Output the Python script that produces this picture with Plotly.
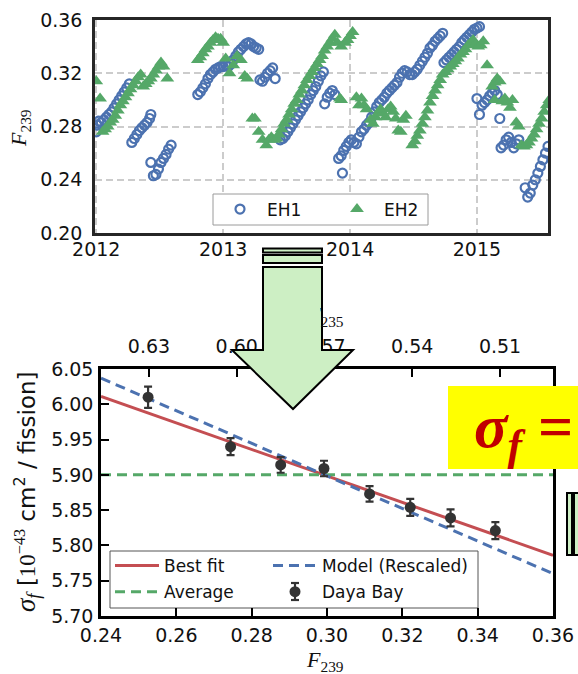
import plotly.graph_objects as go

W, H = 578, 674

# ---------------- Top panel: F239 vs time for two experimental halls ----------------
eh1_year = [
    2012.00, 2012.01, 2012.02, 2012.04, 2012.06, 2012.08, 2012.10, 2012.12, 2012.14, 2012.16,
    2012.18, 2012.20, 2012.22, 2012.24, 2012.26,
    2012.28, 2012.30, 2012.32, 2012.34, 2012.36, 2012.38, 2012.40, 2012.42, 2012.43,
    2012.43, 2012.45, 2012.47, 2012.49, 2012.51, 2012.53, 2012.55, 2012.57, 2012.59,
    2012.80, 2012.82, 2012.84, 2012.86, 2012.88, 2012.90, 2012.92, 2012.94, 2012.96, 2012.98,
    2013.00, 2013.02, 2013.04, 2013.06, 2013.08, 2013.10, 2013.12, 2013.14, 2013.16, 2013.18,
    2013.20, 2013.22, 2013.24, 2013.26, 2013.28,
    2013.29, 2013.31, 2013.33, 2013.35, 2013.37, 2013.39, 2013.41,
    2013.45, 2013.47, 2013.49, 2013.51, 2013.53, 2013.55, 2013.57, 2013.59, 2013.61, 2013.63,
    2013.65, 2013.67, 2013.69, 2013.71, 2013.73, 2013.75, 2013.77, 2013.79,
    2013.80, 2013.82, 2013.84, 2013.86, 2013.88,
    2013.91, 2013.93, 2013.94, 2013.95, 2013.97, 2013.99, 2014.01, 2014.03, 2014.05, 2014.07,
    2014.09, 2014.11, 2014.13, 2014.15, 2014.17, 2014.19, 2014.21, 2014.23, 2014.25, 2014.27,
    2014.29, 2014.31, 2014.33, 2014.35, 2014.37, 2014.39, 2014.41, 2014.43, 2014.45, 2014.47,
    2014.49, 2014.51, 2014.53, 2014.55, 2014.57, 2014.59, 2014.61, 2014.63, 2014.65, 2014.67,
    2014.69, 2014.71, 2014.73,
    2014.74, 2014.76, 2014.78, 2014.80, 2014.82, 2014.84, 2014.86, 2014.88, 2014.90, 2014.92,
    2014.94, 2014.96, 2014.98, 2015.00, 2015.02,
    2015.00, 2015.02, 2015.04, 2015.06, 2015.08, 2015.10, 2015.12, 2015.14, 2015.16, 2015.18,
    2015.19, 2015.21, 2015.23, 2015.25, 2015.27, 2015.29, 2015.31, 2015.33,
    2015.38, 2015.40, 2015.42, 2015.44, 2015.46, 2015.48, 2015.50, 2015.52, 2015.54, 2015.56,
]
eh1_f239 = [
    0.276, 0.281, 0.284, 0.283, 0.285, 0.287, 0.289, 0.291, 0.294, 0.297,
    0.300, 0.303, 0.306, 0.309, 0.312,
    0.268, 0.271, 0.274, 0.277, 0.279, 0.281, 0.283, 0.286, 0.289,
    0.253, 0.243, 0.244, 0.248, 0.253, 0.256, 0.259, 0.263, 0.266,
    0.304, 0.306, 0.309, 0.312, 0.316, 0.319, 0.321, 0.323, 0.324, 0.325,
    0.325, 0.326, 0.325, 0.327, 0.330, 0.333, 0.336, 0.338, 0.340, 0.342,
    0.343, 0.342, 0.340, 0.339, 0.338,
    0.315, 0.314, 0.317, 0.320, 0.322, 0.324, 0.316,
    0.270, 0.271, 0.273, 0.276, 0.279, 0.282, 0.285, 0.288, 0.291, 0.294,
    0.297, 0.300, 0.304, 0.307, 0.310, 0.314, 0.318, 0.321,
    0.297, 0.302, 0.305, 0.307, 0.304,
    0.256, 0.258, 0.245, 0.262, 0.265, 0.268, 0.270, 0.268, 0.267, 0.272,
    0.276, 0.278, 0.281, 0.283, 0.287, 0.291, 0.295, 0.298, 0.300, 0.302,
    0.305, 0.307, 0.309, 0.311, 0.313, 0.317, 0.320, 0.322, 0.321, 0.319,
    0.319, 0.321, 0.323, 0.326, 0.329, 0.332, 0.335, 0.339, 0.341, 0.344,
    0.346, 0.348, 0.350,
    0.328, 0.330, 0.332, 0.334, 0.336, 0.338, 0.340, 0.343, 0.345, 0.347,
    0.349, 0.351, 0.353, 0.354, 0.355,
    0.301, 0.289, 0.296, 0.298, 0.300, 0.303, 0.305, 0.307, 0.304, 0.286,
    0.264, 0.266, 0.270, 0.272, 0.268, 0.264, 0.267, 0.270,
    0.234, 0.227, 0.230, 0.236, 0.240, 0.245, 0.250, 0.255, 0.260, 0.265,
]

eh2_year = [
    2012.00, 2012.03,
    2012.05, 2012.07, 2012.09, 2012.11, 2012.13, 2012.15, 2012.17, 2012.19, 2012.21, 2012.23,
    2012.25, 2012.27, 2012.29, 2012.31, 2012.33, 2012.35,
    2012.37, 2012.39, 2012.41, 2012.43, 2012.45, 2012.47, 2012.49, 2012.51, 2012.53, 2012.56,
    2012.80, 2012.82, 2012.84, 2012.86, 2012.88, 2012.90, 2012.92, 2012.94, 2012.96, 2012.98,
    2013.00,
    2013.02, 2013.05, 2013.08, 2013.11, 2013.14, 2013.17, 2013.19,
    2013.23, 2013.25, 2013.28, 2013.31, 2013.34, 2013.36, 2013.38, 2013.40, 2013.42,
    2013.44, 2013.46, 2013.48, 2013.50, 2013.52, 2013.54, 2013.56, 2013.58, 2013.60, 2013.62,
    2013.64, 2013.66, 2013.68, 2013.70, 2013.72, 2013.74, 2013.76, 2013.78, 2013.80, 2013.82,
    2013.84, 2013.86, 2013.88,
    2013.90, 2013.93, 2013.96, 2013.98, 2014.00, 2014.02,
    2013.92, 2013.93,
    2014.05, 2014.07, 2014.09, 2014.11, 2014.13,
    2014.16, 2014.18, 2014.20, 2014.22, 2014.24, 2014.26, 2014.28, 2014.30, 2014.32, 2014.34,
    2014.36,
    2014.38, 2014.40, 2014.42, 2014.44,
    2014.49, 2014.51, 2014.53, 2014.55, 2014.57, 2014.59, 2014.61, 2014.63, 2014.65, 2014.67,
    2014.69, 2014.71, 2014.73, 2014.75, 2014.77, 2014.79, 2014.81, 2014.83, 2014.85, 2014.87,
    2014.89, 2014.91, 2014.93, 2014.95, 2014.97, 2014.99, 2015.01, 2015.03, 2015.05,
    2015.08, 2015.12, 2015.14, 2015.16, 2015.18,
    2015.14, 2015.20, 2015.22, 2015.24, 2015.26, 2015.28,
    2015.31, 2015.33,
    2015.35, 2015.37, 2015.39, 2015.41, 2015.43, 2015.45, 2015.47, 2015.49, 2015.51, 2015.53,
    2015.55, 2015.57,
]
eh2_f239 = [
    0.314, 0.301,
    0.276, 0.278, 0.280, 0.283, 0.285, 0.288, 0.292, 0.296, 0.299, 0.302,
    0.305, 0.308, 0.311, 0.314, 0.317, 0.319,
    0.310, 0.312, 0.314, 0.316, 0.319, 0.322, 0.325, 0.328, 0.325, 0.316,
    0.330, 0.332, 0.335, 0.338, 0.340, 0.343, 0.345, 0.347, 0.346, 0.346,
    0.343,
    0.331, 0.320, 0.326, 0.333, 0.330, 0.318, 0.316,
    0.286, 0.286, 0.276, 0.270, 0.266, 0.270, 0.272, 0.270, 0.271,
    0.274, 0.278, 0.282, 0.285, 0.289, 0.293, 0.297, 0.300, 0.304, 0.307,
    0.311, 0.315, 0.318, 0.321, 0.324, 0.327, 0.330, 0.333, 0.337, 0.340,
    0.343, 0.346, 0.349,
    0.343, 0.340, 0.343, 0.345, 0.348, 0.351,
    0.301, 0.300,
    0.302, 0.296, 0.301, 0.296, 0.293,
    0.285, 0.282, 0.287, 0.290, 0.293, 0.290, 0.287, 0.293, 0.295, 0.291,
    0.286,
    0.277, 0.276, 0.285, 0.288,
    0.266, 0.269, 0.273, 0.277, 0.282, 0.287, 0.292, 0.298, 0.303, 0.307,
    0.311, 0.315, 0.319, 0.321, 0.323, 0.325, 0.327, 0.329, 0.331, 0.334,
    0.336, 0.338, 0.341, 0.343, 0.345, 0.342, 0.340, 0.341, 0.344,
    0.326, 0.310, 0.313, 0.316, 0.314,
    0.300, 0.299, 0.301, 0.298, 0.294, 0.300,
    0.283, 0.280,
    0.266, 0.265, 0.266, 0.268, 0.271, 0.274, 0.278, 0.282, 0.286, 0.291,
    0.296, 0.300,
]

year_ticks = [2012, 2013, 2014, 2015]
f239_time_ticks = [0.20, 0.24, 0.28, 0.32, 0.36]

# ---------------- Bottom panel: IBD yield per fission vs F239 ----------------
bin_f239 = [0.2525, 0.2744, 0.2877, 0.2992, 0.3113, 0.3221, 0.3328, 0.3447]
bin_sigma = [6.010, 5.940, 5.914, 5.909, 5.873, 5.854, 5.839, 5.821]
bin_err = [0.015, 0.012, 0.011, 0.011, 0.011, 0.012, 0.012, 0.012]

line_f239 = [0.24, 0.36]
fit_sigma = [6.011, 5.786]
model_sigma = [6.037, 5.760]
avg_sigma = 5.90

f239_ticks = [0.24, 0.26, 0.28, 0.30, 0.32, 0.34, 0.36]
sigma_ticks = [5.70, 5.75, 5.80, 5.85, 5.90, 5.95, 6.00, 6.05]
f235_ticks = [0.63, 0.60, 0.57, 0.54, 0.51]
f235_range = [0.6464, 0.4919]

BLUE = "#4C72B0"
GREEN = "#55A868"
RED = "#C44E52"
DARK = "#333333"
ARROW_FILL = "#CDEFC4"
SANS = "DejaVu Sans"
SERIF = "Liberation Serif"


def px(x):
    return x / W


def py(y):
    return 1 - y / H


fig = go.Figure()

fig.add_trace(go.Scatter(
    x=eh1_year, y=eh1_f239, mode="markers", name="EH1",
    xaxis="x", yaxis="y", legend="legend",
    marker=dict(symbol="circle-open", size=9, color=BLUE, line=dict(width=2.2)),
))
fig.add_trace(go.Scatter(
    x=eh2_year, y=eh2_f239, mode="markers", name="EH2",
    xaxis="x", yaxis="y", legend="legend",
    marker=dict(symbol="triangle-up", size=12, color=GREEN, line=dict(width=0)),
))

fig.add_trace(go.Scatter(
    x=line_f239, y=fit_sigma, mode="lines", name="Best fit",
    xaxis="x2", yaxis="y2", legend="legend2", legendgroup="fit",
    line=dict(color=RED, width=3),
))
fig.add_trace(go.Scatter(
    x=line_f239, y=[avg_sigma, avg_sigma], mode="lines", name="Average",
    xaxis="x2", yaxis="y2", legend="legend2", legendgroup="avg",
    line=dict(color=GREEN, width=3, dash="10px,6px"),
))
fig.add_trace(go.Scatter(
    x=line_f239, y=model_sigma, mode="lines", name="Model (Rescaled)",
    xaxis="x2", yaxis="y2", legend="legend3", legendgroup="model",
    line=dict(color=BLUE, width=3, dash="10px,6px"),
))
fig.add_trace(go.Scatter(
    x=bin_f239, y=bin_sigma, mode="markers", name="Daya Bay",
    xaxis="x2", yaxis="y2", legend="legend3", legendgroup="data",
    marker=dict(symbol="circle", size=11, color=DARK),
    error_y=dict(type="data", array=bin_err, color=DARK, thickness=2.2, width=4),
))
# carrier for the secondary F235 axis
fig.add_trace(go.Scatter(
    x=f235_ticks, y=[avg_sigma] * len(f235_ticks), mode="markers",
    xaxis="x3", yaxis="y2", showlegend=False, hoverinfo="skip",
    marker=dict(opacity=0),
))

tick_font = dict(family=SANS, size=19, color="#111111")
legend_font = dict(family=SANS, size=17, color="#111111")

fig.update_layout(
    width=W, height=H,
    margin=dict(l=0, r=0, t=0, b=0, autoexpand=False),
    paper_bgcolor="white", plot_bgcolor="white",
    showlegend=True,
    xaxis=dict(
        domain=[px(95), px(548)], anchor="y", range=[2011.99, 2015.56],
        tickvals=year_ticks, ticktext=[str(v) for v in year_ticks],
        showgrid=True, gridcolor="#cccccc", gridwidth=1.5, griddash="7px,4px",
        zeroline=False, showline=True, linecolor="#262626", linewidth=2.5, mirror=True,
        ticks="", tickfont=tick_font, ticklabelstandoff=-3, automargin=False,
    ),
    yaxis=dict(
        domain=[py(233), py(20)], anchor="x", range=[0.20, 0.36],
        tickvals=f239_time_ticks, ticktext=["%.2f" % v for v in f239_time_ticks],
        showgrid=True, gridcolor="#cccccc", gridwidth=1.5, griddash="7px,4px",
        zeroline=False, showline=True, linecolor="#262626", linewidth=2.5, mirror=True,
        ticks="", tickfont=tick_font, ticklabelstandoff=6, automargin=False,
    ),
    xaxis2=dict(
        domain=[px(101), px(553)], anchor="y2", range=[0.24, 0.36],
        tickvals=f239_ticks, ticktext=["%.2f" % v for v in f239_ticks],
        showgrid=False, zeroline=False, showline=True, linecolor="black",
        linewidth=2.5, mirror=True,
        ticks="inside", ticklen=8, tickwidth=2, tickcolor="black",
        tickfont=tick_font, ticklabelstandoff=0, automargin=False,
    ),
    yaxis2=dict(
        domain=[py(616), py(369)], anchor="x2", range=[5.70, 6.05],
        tickvals=sigma_ticks, ticktext=["%.2f" % v for v in sigma_ticks],
        showgrid=False, zeroline=False, showline=True, linecolor="black",
        linewidth=2.5, mirror=True,
        ticks="inside", ticklen=8, tickwidth=2, tickcolor="black",
        tickfont=tick_font, ticklabelstandoff=1, automargin=False,
    ),
    xaxis3=dict(
        overlaying="x2", anchor="y2", side="top", range=f235_range,
        tickvals=f235_ticks, ticktext=["%.2f" % v for v in f235_ticks],
        showgrid=False, zeroline=False, showline=False,
        ticks="inside", ticklen=8, tickwidth=2, tickcolor="black",
        tickfont=tick_font, ticklabelstandoff=11, automargin=False,
    ),
    legend=dict(
        orientation="h", x=px(213), xanchor="left", y=py(209.5), yanchor="middle",
        bgcolor="rgba(0,0,0,0)", borderwidth=0,
        font=legend_font, itemwidth=44,
        entrywidth=58, entrywidthmode="pixels",
    ),
    legend2=dict(
        orientation="v", x=px(110), xanchor="left", y=py(548), yanchor="top",
        bgcolor="rgba(0,0,0,0)", borderwidth=0, tracegroupgap=1,
        font=legend_font, itemwidth=44,
    ),
    legend3=dict(
        orientation="v", x=px(268), xanchor="left", y=py(548), yanchor="top",
        bgcolor="rgba(0,0,0,0)", borderwidth=0, tracegroupgap=1,
        font=legend_font, itemwidth=44,
    ),
)

shapes = []
# legend frames
shapes.append(dict(type="rect", xref="paper", yref="paper", layer="above",
                   x0=px(213), x1=px(428), y0=py(225), y1=py(194),
                   line=dict(color="#9a9a9a", width=1), fillcolor="white"))
shapes.append(dict(type="rect", xref="paper", yref="paper", layer="below",
                   x0=px(110), x1=px(478), y0=py(608), y1=py(551),
                   line=dict(color="#555555", width=1), fillcolor="white"))
# error-bar glyph behind the "Daya Bay" legend marker
bar_x, bar_top, bar_bot = 295, 583, 600
legend_bar = dict(color=DARK, width=2.2)
shapes.append(dict(type="line", xref="paper", yref="paper", layer="above",
                   x0=px(bar_x), x1=px(bar_x), y0=py(bar_bot), y1=py(bar_top), line=legend_bar))
for yb in (bar_top, bar_bot):
    shapes.append(dict(type="line", xref="paper", yref="paper", layer="above",
                       x0=px(bar_x - 4), x1=px(bar_x + 4), y0=py(yb), y1=py(yb), line=legend_bar))
# down arrow linking the panels, with two thin bars above it
arrow_line = dict(color="black", width=2)
for top, bottom in [(248.5, 252.5), (255, 263)]:
    shapes.append(dict(type="rect", xref="paper", yref="paper", layer="above",
                       x0=px(263), x1=px(322), y0=py(bottom), y1=py(top),
                       line=arrow_line, fillcolor=ARROW_FILL))
arrow_pts = [(263, 267), (322, 267), (322, 350), (353, 350), (293, 409), (232, 350), (263, 350)]
path = "M " + " L ".join("%.5f,%.5f" % (px(a), py(b)) for a, b in arrow_pts) + " Z"
shapes.append(dict(type="path", xref="paper", yref="paper", layer="above", path=path,
                   line=arrow_line, fillcolor=ARROW_FILL))
# sideways bars at the right edge
for x0, x1 in [(567, 572), (574, 586)]:
    shapes.append(dict(type="rect", xref="paper", yref="paper", layer="above",
                       x0=px(x0), x1=px(x1), y0=py(555), y1=py(493),
                       line=arrow_line, fillcolor=ARROW_FILL))
# yellow formula banner
shapes.append(dict(type="rect", xref="paper", yref="paper", layer="above",
                   x0=px(448), x1=px(600), y0=py(469), y1=py(386),
                   line=dict(width=0), fillcolor="#FFFF00"))
fig.update_layout(shapes=shapes)

serif_span = '<span style="font-family:%s">' % SERIF
sigma_span = '<span style="font-family:%s;font-size:27px">' % SERIF
annotations = [
    dict(text="<i>F</i><sub>239</sub>", x=px(20), y=py(128), textangle=-90,
         font=dict(family=SERIF, size=22, color="#111111")),
    dict(text="<i>F</i><sub>239</sub>", x=px(325), y=py(661),
         font=dict(family=SERIF, size=22, color="#111111")),
    dict(text=sigma_span + "<i>σ</i><sub><i>f</i></sub></span> ["
         + serif_span + "10<sup>−43</sup></span> cm<sup>2</sup> / fission]",
         x=px(27), y=py(492), textangle=-90,
         font=dict(family=SANS, size=23, color="#111111")),
    dict(text="<i>F</i><sub>235</sub>", x=px(304), y=py(316), xanchor="left",
         font=dict(family=SERIF, size=22, color="#111111")),
    # shaft interior drawn over the hidden part of the F235 label
    dict(text=" ", x=px(292.5), y=py(316), width=55, height=30,
         bgcolor=ARROW_FILL, borderwidth=0, borderpad=0),
    dict(text="<b><i>σ<sub>f</sub> =</i></b>", x=px(472), y=py(430), xanchor="left",
         font=dict(family=SERIF, size=62, color="#C00000")),
]
for a in annotations:
    a.setdefault("xref", "paper")
    a.setdefault("yref", "paper")
    a.setdefault("xanchor", "center")
    a.setdefault("yanchor", "middle")
    a.setdefault("showarrow", False)
fig.update_layout(annotations=annotations)

fig.write_html("out.html")
